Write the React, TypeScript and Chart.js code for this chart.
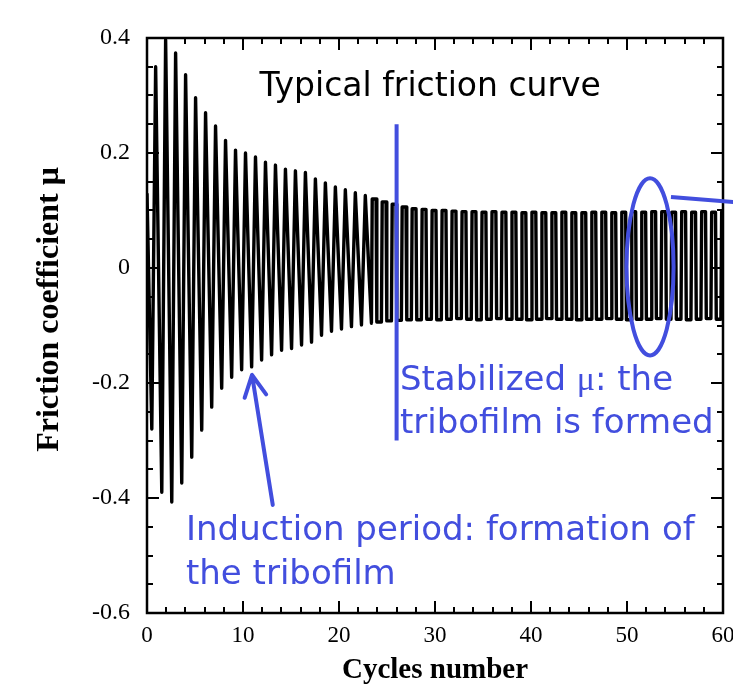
import React, { useEffect, useRef } from "react";
import { Chart, registerables } from "chart.js";

Chart.register(...registerables);

// ---- axes ----
const X_MIN = 0;
const X_MAX = 60;
const Y_MIN = -0.6;
const Y_MAX = 0.4;
const X_TICK_LABELS = [0, 10, 20, 30, 40, 50, 60];
const Y_TICK_LABELS = [-0.6, -0.4, -0.2, 0, 0.2, 0.4];
const X_MINOR_STEP = 2;
const Y_MINOR_STEP = 0.05;
const X_TITLE = "Cycles number";
const Y_TITLE = "\u2002\u2002Friction coefficient μ";

// ---- friction signal ----
const START_VALUE = 0.13; // value at cycle 0
const FIRST_TROUGH_CYCLE = 0.5; // cycle of the first trough
const OSC_PERIOD = 1.04; // spacing between oscillations, in cycles
const SQUARE_FROM = 22; // from this oscillation on, the waveform has flat tops

const PEAKS = [
  0.35, 0.397, 0.374, 0.336, 0.296, 0.27, 0.247, 0.222, 0.205, 0.2,
  0.193, 0.184, 0.179, 0.172, 0.169, 0.166, 0.155, 0.148, 0.141, 0.136,
  0.131, 0.126, 0.12, 0.115, 0.111, 0.106, 0.103, 0.102, 0.1, 0.1,
  0.099, 0.098, 0.098, 0.097, 0.098, 0.097, 0.097, 0.096, 0.097, 0.096,
  0.096, 0.097, 0.096, 0.096, 0.097, 0.097, 0.096, 0.097, 0.098, 0.097,
  0.098, 0.098, 0.097, 0.098, 0.097, 0.098, 0.097, 0.098,
];
const TROUGHS = [
  -0.28, -0.39, -0.407, -0.374, -0.329, -0.282, -0.242, -0.209, -0.19, -0.177,
  -0.172, -0.16, -0.151, -0.143, -0.14, -0.134, -0.129, -0.117, -0.11, -0.106,
  -0.102, -0.099, -0.096, -0.094, -0.092, -0.091, -0.09, -0.09, -0.089, -0.09,
  -0.089, -0.088, -0.089, -0.09, -0.089, -0.088, -0.089, -0.089, -0.09, -0.089,
  -0.088, -0.089, -0.089, -0.09, -0.089, -0.089, -0.088, -0.089, -0.09, -0.089,
  -0.089, -0.088, -0.089, -0.089, -0.09, -0.089, -0.088, -0.089,
];

// ---- annotations (data coordinates) ----
const TITLE_TEXT = "Typical friction curve";
const TITLE_POS = { x: 29.5, y: 0.3 };
const STAB_LINE = { x: 26, y1: 0.25, y2: -0.3 };
const STAB_LINES = [["Stabilized ", "μ", ": the"], ["tribofilm is formed"]];
const STAB_POS = [{ x: 26.35, y: -0.212 }, { x: 26.35, y: -0.287 }];
const IND_LINES = ["Induction period: formation of", "the tribofilm"];
const IND_POS = [{ x: 4.06, y: -0.473 }, { x: 4.06, y: -0.55 }];
const ARROW = { x1: 13.1, y1: -0.412, x2: 10.94, y2: -0.186 };
const ELLIPSE = { cx: 52.4, cy: 0.002, rx: 2.45, ry: 0.154 };
const POINTER = { x1: 54.58, y1: 0.1235, x2: 61.1, y2: 0.1148 };

const BLUE = "rgb(66, 78, 222)";
const NOTE_FONT = "34px 'DejaVu Sans'";
const TITLE_FONT = "33px 'DejaVu Sans'";
const NOTE_SERIF = "34px 'Liberation Serif'";

function buildPoints() {
  const pts: { x: number; y: number }[] = [{ x: 0, y: START_VALUE }];
  for (let k = 0; k < PEAKS.length; k++) {
    const t = FIRST_TROUGH_CYCLE + k * OSC_PERIOD;
    const next = k + 1 < TROUGHS.length ? TROUGHS[k + 1] : TROUGHS[k];
    if (k < SQUARE_FROM) {
      pts.push({ x: t, y: TROUGHS[k] }, { x: t + 0.4, y: PEAKS[k] });
    } else {
      pts.push(
        { x: t, y: TROUGHS[k] },
        { x: t + 0.08, y: PEAKS[k] },
        { x: t + 0.48, y: PEAKS[k] },
        { x: t + 0.56, y: next }
      );
    }
  }
  return pts;
}

const decorPlugin = {
  id: "decor",
  afterDatasetsDraw(chart: any) {
    const { ctx, chartArea, scales } = chart;
    const { left, right, top, bottom } = chartArea;
    const xs = scales.x;
    const ys = scales.y;
    ctx.save();
    // inward ticks on all sides
    ctx.strokeStyle = "#000";
    ctx.lineWidth = 2;
    ctx.beginPath();
    for (let v = X_MIN; v <= X_MAX + 1e-9; v += X_MINOR_STEP) {
      const major = X_TICK_LABELS.some((t) => Math.abs(t - v) < 1e-6);
      const len = major ? 12 : 6;
      const px = Math.round(xs.getPixelForValue(v));
      ctx.moveTo(px, bottom);
      ctx.lineTo(px, bottom - len);
      ctx.moveTo(px, top);
      ctx.lineTo(px, top + len);
    }
    for (let i = 0; Y_MIN + i * Y_MINOR_STEP <= Y_MAX + 1e-9; i++) {
      const v = Y_MIN + i * Y_MINOR_STEP;
      const major = Y_TICK_LABELS.some((t) => Math.abs(t - v) < 1e-6);
      const len = major ? 12 : 6;
      const py = Math.round(ys.getPixelForValue(v));
      ctx.moveTo(left, py);
      ctx.lineTo(left + len, py);
      ctx.moveTo(right, py);
      ctx.lineTo(right - len, py);
    }
    ctx.stroke();
    // frame
    ctx.lineWidth = 2.5;
    ctx.strokeRect(left, top, right - left, bottom - top);

    const X = (v: number) => xs.getPixelForValue(v);
    const Y = (v: number) => ys.getPixelForValue(v);

    // title
    ctx.fillStyle = "#000";
    ctx.font = TITLE_FONT;
    ctx.textAlign = "center";
    ctx.textBaseline = "alphabetic";
    ctx.fillText(TITLE_TEXT, X(TITLE_POS.x), Y(TITLE_POS.y));

    // blue marks
    ctx.strokeStyle = BLUE;
    ctx.fillStyle = BLUE;
    ctx.lineWidth = 4;
    ctx.lineCap = "butt";
    ctx.beginPath();
    ctx.moveTo(X(STAB_LINE.x), Y(STAB_LINE.y1));
    ctx.lineTo(X(STAB_LINE.x), Y(STAB_LINE.y2));
    ctx.stroke();

    // ellipse
    const ecx = X(ELLIPSE.cx);
    const ecy = Y(ELLIPSE.cy);
    const erx = X(ELLIPSE.cx + ELLIPSE.rx) - ecx;
    const ery = ecy - Y(ELLIPSE.cy + ELLIPSE.ry);
    ctx.beginPath();
    ctx.ellipse(ecx, ecy, erx, ery, 0, 0, Math.PI * 2);
    ctx.stroke();
    ctx.beginPath();
    ctx.moveTo(X(POINTER.x1), Y(POINTER.y1));
    ctx.lineTo(X(POINTER.x2), Y(POINTER.y2));
    ctx.stroke();

    // arrow
    const ax1 = X(ARROW.x1), ay1 = Y(ARROW.y1), ax2 = X(ARROW.x2), ay2 = Y(ARROW.y2);
    ctx.lineCap = "round";
    ctx.lineJoin = "round";
    ctx.beginPath();
    ctx.moveTo(ax1, ay1);
    ctx.lineTo(ax2, ay2);
    const ang = Math.atan2(ay1 - ay2, ax1 - ax2);
    const wl = 24;
    const wa = (27 * Math.PI) / 180;
    ctx.moveTo(ax2 + wl * Math.cos(ang - wa), ay2 + wl * Math.sin(ang - wa));
    ctx.lineTo(ax2, ay2);
    ctx.lineTo(ax2 + wl * Math.cos(ang + wa), ay2 + wl * Math.sin(ang + wa));
    ctx.stroke();

    // blue texts
    ctx.textAlign = "left";
    STAB_LINES.forEach((segs, i) => {
      let cx = X(STAB_POS[i].x);
      const cy = Y(STAB_POS[i].y);
      segs.forEach((s) => {
        ctx.font = s === "μ" ? NOTE_SERIF : NOTE_FONT;
        ctx.fillText(s, cx, cy);
        cx += ctx.measureText(s).width;
      });
    });
    ctx.font = NOTE_FONT;
    IND_LINES.forEach((s, i) => {
      ctx.fillText(s, X(IND_POS[i].x), Y(IND_POS[i].y));
    });
    ctx.restore();
  },
};

export default function App() {
  const ref = useRef<HTMLCanvasElement | null>(null);
  useEffect(() => {
    document.body.style.margin = "0";
    const canvas = ref.current!;
    const chart = new Chart(canvas, {
      type: "line",
      data: {
        datasets: [
          {
            data: buildPoints(),
            borderColor: "#000",
            borderWidth: 3.4,
            pointRadius: 0,
            tension: 0,
            fill: false,
            borderJoinStyle: "round",
          } as any,
        ],
      },
      options: {
        animation: false,
        responsive: false,
        devicePixelRatio: 1,
        parsing: false,
        layout: { padding: { top: 38, right: 10, bottom: 0, left: 0 } },
        plugins: { legend: { display: false }, tooltip: { enabled: false } },
        scales: {
          x: {
            type: "linear",
            min: X_MIN,
            max: X_MAX,
            afterFit: (s: any) => {
              s.height = 72;
              s.paddingLeft = 0;
              s.paddingRight = 0;
            },
            afterBuildTicks: (s: any) => {
              s.ticks = X_TICK_LABELS.map((v) => ({ value: v }));
            },
            grid: { display: false, drawTicks: false },
            border: { display: false },
            ticks: {
              color: "#000",
              font: { family: "'Liberation Serif'", size: 23 },
              padding: 9,
              maxRotation: 0,
              autoSkip: false,
              callback: (v: any) => String(v),
            },
            title: {
              display: true,
              text: X_TITLE,
              color: "#000",
              font: { family: "'Liberation Serif'", size: 29, weight: "bold", lineHeight: 1 },
              padding: { top: 0, bottom: 0 },
            },
          },
          y: {
            type: "linear",
            min: Y_MIN,
            max: Y_MAX,
            afterFit: (s: any) => {
              s.width = 147;
              s.paddingTop = 0;
              s.paddingBottom = 0;
            },
            afterBuildTicks: (s: any) => {
              s.ticks = Y_TICK_LABELS.map((v) => ({ value: v }));
            },
            grid: { display: false, drawTicks: false },
            border: { display: false },
            ticks: {
              color: "#000",
              font: { family: "'Liberation Serif'", size: 24 },
              padding: 17,
              autoSkip: false,
              callback: (v: any) => {
                const r = Math.round(Number(v) * 100) / 100;
                return r === 0 ? "0" : String(r);
              },
            },
            title: {
              display: true,
              text: Y_TITLE,
              color: "#000",
              font: { family: "'Liberation Serif'", size: 32, weight: "bold", lineHeight: 1 },
              padding: { top: 34, bottom: 0 },
            },
          },
        },
      },
      plugins: [decorPlugin],
    } as any);
    return () => chart.destroy();
  }, []);
  return (
    <div style={{ position: "absolute", left: 0, top: 0, width: 733, height: 685, background: "#fff" }}>
      <canvas ref={ref} width={733} height={685} />
    </div>
  );
}
